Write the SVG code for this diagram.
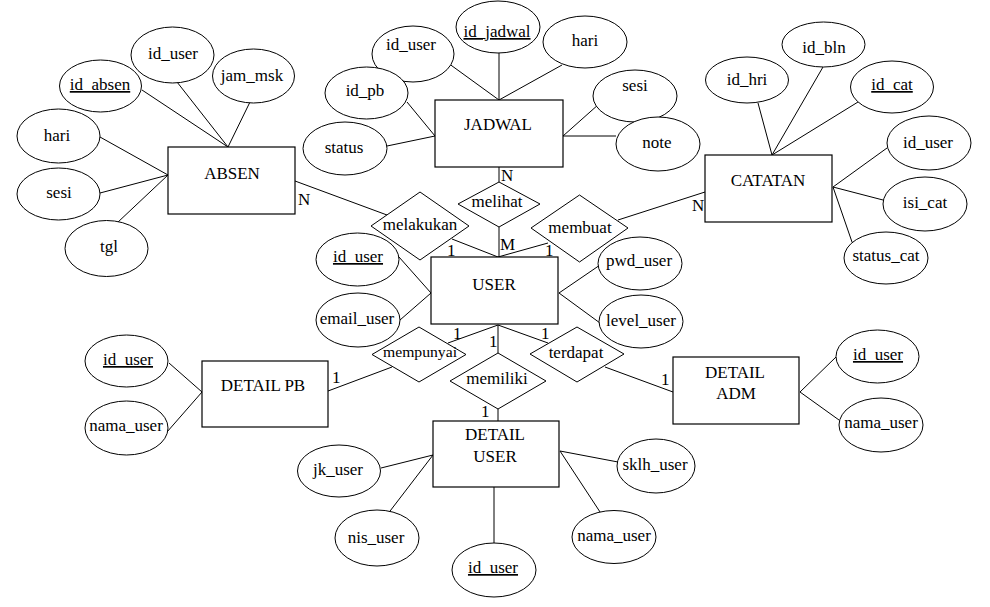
<svg xmlns="http://www.w3.org/2000/svg" width="990" height="607" viewBox="0 0 990 607">
<rect width="990" height="607" fill="#fff"/>
<g id="connectors" stroke="#000" stroke-width="1">
<line x1="142" y1="90" x2="228" y2="147"/>
<line x1="177" y1="82" x2="228" y2="147"/>
<line x1="250" y1="102" x2="228" y2="147"/>
<line x1="100" y1="137" x2="168" y2="175"/>
<line x1="100" y1="193" x2="168" y2="175"/>
<line x1="117" y1="223" x2="168" y2="175"/>
<line x1="295" y1="181" x2="387" y2="215"/>
<line x1="452" y1="239" x2="498" y2="257"/>
<line x1="448" y1="63" x2="499" y2="100"/>
<line x1="499" y1="53" x2="499" y2="100"/>
<line x1="562" y1="65" x2="499" y2="100"/>
<line x1="407" y1="102" x2="435" y2="136"/>
<line x1="387" y1="146" x2="435" y2="136"/>
<line x1="599" y1="104" x2="563" y2="136"/>
<line x1="616" y1="136" x2="563" y2="136"/>
<line x1="499" y1="167" x2="499" y2="182"/>
<line x1="499" y1="227" x2="499" y2="257"/>
<line x1="548" y1="243" x2="498" y2="257"/>
<line x1="618" y1="220" x2="705" y2="192"/>
<line x1="758" y1="103" x2="772" y2="155"/>
<line x1="823" y1="67" x2="772" y2="155"/>
<line x1="858" y1="102" x2="772" y2="155"/>
<line x1="887" y1="148" x2="833" y2="187"/>
<line x1="883" y1="200" x2="833" y2="187"/>
<line x1="852" y1="242" x2="833" y2="187"/>
<line x1="399" y1="257" x2="431" y2="293"/>
<line x1="400" y1="320" x2="431" y2="293"/>
<line x1="600" y1="265" x2="559" y2="293"/>
<line x1="600" y1="323" x2="559" y2="293"/>
<line x1="498" y1="325" x2="448" y2="343"/>
<line x1="392" y1="367" x2="328" y2="391"/>
<line x1="169" y1="363" x2="202" y2="392"/>
<line x1="167" y1="432" x2="202" y2="392"/>
<line x1="498" y1="325" x2="498" y2="353"/>
<line x1="498" y1="409" x2="498" y2="421"/>
<line x1="498" y1="325" x2="548" y2="343"/>
<line x1="605" y1="367" x2="673" y2="392"/>
<line x1="836" y1="357" x2="800" y2="392"/>
<line x1="839" y1="420" x2="800" y2="392"/>
<line x1="381" y1="468" x2="433" y2="455"/>
<line x1="387" y1="515" x2="433" y2="455"/>
<line x1="494" y1="487" x2="494" y2="544"/>
<line x1="602" y1="515" x2="560" y2="451"/>
<line x1="618" y1="462" x2="560" y2="451"/>
</g>
<g id="cardinality">
<text font-family="Liberation Serif" font-size="17" x="298" y="205">N</text>
<text font-family="Liberation Serif" font-size="17" x="447" y="256">1</text>
<text font-family="Liberation Serif" font-size="17" x="501" y="181">N</text>
<text font-family="Liberation Serif" font-size="17" x="500" y="250">M</text>
<text font-family="Liberation Serif" font-size="17" x="545" y="256">1</text>
<text font-family="Liberation Serif" font-size="17" x="692" y="211">N</text>
<text font-family="Liberation Serif" font-size="17" x="453" y="339">1</text>
<text font-family="Liberation Serif" font-size="17" x="332" y="383">1</text>
<text font-family="Liberation Serif" font-size="17" x="489" y="347">1</text>
<text font-family="Liberation Serif" font-size="17" x="481" y="417">1</text>
<text font-family="Liberation Serif" font-size="17" x="541" y="339">1</text>
<text font-family="Liberation Serif" font-size="17" x="661" y="385">1</text>
</g>
<g fill="#fff" stroke="#000" stroke-width="1">
<g id="absen"><rect stroke-width="1.2" x="168" y="147" width="127" height="67"/></g>
<g id="jadwal"><rect stroke-width="1.2" x="435" y="100" width="128" height="67"/></g>
<g id="catatan"><rect stroke-width="1.2" x="705" y="155" width="127" height="67"/></g>
<g id="user"><rect stroke-width="1.2" x="431" y="257" width="127" height="67"/></g>
<g id="detail-pb"><rect stroke-width="1.2" x="202" y="361" width="126" height="66"/></g>
<g id="detail-user"><rect stroke-width="1.2" x="433" y="421" width="126" height="66"/></g>
<g id="detail-adm"><rect stroke-width="1.2" x="673" y="357" width="126" height="67"/></g>
<g id="absen-id_user"><ellipse cx="172.5" cy="55" rx="41.5" ry="28"/></g>
<g id="absen-jam_msk"><ellipse cx="253.5" cy="76" rx="41" ry="27"/></g>
<g id="absen-id_absen"><ellipse cx="100.5" cy="86" rx="41" ry="26"/></g>
<g id="absen-hari"><ellipse cx="58.5" cy="136" rx="41.5" ry="27"/></g>
<g id="absen-sesi"><ellipse cx="58.5" cy="194" rx="41.5" ry="26"/></g>
<g id="absen-tgl"><ellipse cx="106.5" cy="248.5" rx="41.5" ry="28"/></g>
<g id="jadwal-id_user"><ellipse cx="413" cy="54" rx="41" ry="28"/></g>
<g id="jadwal-id_jadwal"><ellipse cx="498" cy="27" rx="42" ry="26"/></g>
<g id="jadwal-hari"><ellipse cx="585" cy="42" rx="42" ry="26"/></g>
<g id="jadwal-id_pb"><ellipse cx="366.5" cy="93" rx="41.5" ry="26"/></g>
<g id="jadwal-status"><ellipse cx="345" cy="148.5" rx="42" ry="26.5"/></g>
<g id="jadwal-sesi"><ellipse cx="635" cy="96" rx="42" ry="26"/></g>
<g id="jadwal-note"><ellipse cx="658" cy="144" rx="42" ry="27"/></g>
<g id="catatan-id_hri"><ellipse cx="747" cy="80" rx="41.5" ry="23"/></g>
<g id="catatan-id_bln"><ellipse cx="823.5" cy="44.5" rx="41.5" ry="22.5"/></g>
<g id="catatan-id_cat"><ellipse cx="892" cy="87" rx="41.5" ry="26"/></g>
<g id="catatan-id_user"><ellipse cx="929" cy="143" rx="42" ry="27"/></g>
<g id="catatan-isi_cat"><ellipse cx="925" cy="204" rx="42" ry="27"/></g>
<g id="catatan-status_cat"><ellipse cx="886" cy="258" rx="42" ry="26"/></g>
<g id="melakukan"><polygon points="371,226 420,192 469,226 420,260"/></g>
<g id="melihat"><polygon points="458,204 499,182 540,204 499,227"/></g>
<g id="membuat"><polygon points="531,228 579.5,195 628,228 579.5,262"/></g>
<g id="user-id_user"><ellipse cx="357.5" cy="259.5" rx="41.5" ry="26.5"/></g>
<g id="user-email_user"><ellipse cx="358" cy="320" rx="42" ry="27"/></g>
<g id="user-pwd_user"><ellipse cx="640" cy="263.5" rx="42" ry="26.5"/></g>
<g id="user-level_user"><ellipse cx="641" cy="321.5" rx="42" ry="26.5"/></g>
<g id="mempunyai"><polygon points="372,354.5 419,327 466,354.5 419,382"/></g>
<g id="memiliki"><polygon points="450,381 498,353 546,381 498,409"/></g>
<g id="terdapat"><polygon points="530,354 577,327 624,354 577,382"/></g>
<g id="pb-id_user"><ellipse cx="126.5" cy="361" rx="41.5" ry="26"/></g>
<g id="pb-nama_user"><ellipse cx="126.5" cy="428" rx="41.5" ry="27"/></g>
<g id="du-jk_user"><ellipse cx="339" cy="471" rx="41.5" ry="26"/></g>
<g id="du-nis_user"><ellipse cx="377" cy="538" rx="42" ry="28"/></g>
<g id="du-id_user"><ellipse cx="494" cy="570" rx="42" ry="27"/></g>
<g id="du-nama_user"><ellipse cx="614" cy="537" rx="42" ry="26.5"/></g>
<g id="du-sklh_user"><ellipse cx="656" cy="466" rx="39" ry="27"/></g>
<g id="adm-id_user"><ellipse cx="877.5" cy="356.5" rx="41.5" ry="26.5"/></g>
<g id="adm-nama_user"><ellipse cx="881" cy="425" rx="42" ry="27"/></g>
</g>
<g id="labels" text-anchor="middle">
<text font-family="Liberation Serif" font-size="17" x="232" y="179">ABSEN</text>
<text font-family="Liberation Serif" font-size="17" x="173" y="59">id_user</text>
<text font-family="Liberation Serif" font-size="17" x="252" y="81">jam_msk</text>
<text font-family="Liberation Serif" font-size="17" text-decoration="underline" x="100" y="90">id_absen</text>
<text font-family="Liberation Serif" font-size="17" x="57" y="141">hari</text>
<text font-family="Liberation Serif" font-size="17" x="59" y="198">sesi</text>
<text font-family="Liberation Serif" font-size="17" x="109" y="252">tgl</text>
<text font-family="Liberation Serif" font-size="17" x="498" y="130">JADWAL</text>
<text font-family="Liberation Serif" font-size="17" x="411" y="50">id_user</text>
<text font-family="Liberation Serif" font-size="17" text-decoration="underline" x="497" y="37">id_jadwal</text>
<text font-family="Liberation Serif" font-size="17" x="585" y="46">hari</text>
<text font-family="Liberation Serif" font-size="17" x="365" y="96">id_pb</text>
<text font-family="Liberation Serif" font-size="17" x="344" y="153">status</text>
<text font-family="Liberation Serif" font-size="17" x="635" y="91">sesi</text>
<text font-family="Liberation Serif" font-size="17" x="657" y="148">note</text>
<text font-family="Liberation Serif" font-size="17" x="768" y="186">CATATAN</text>
<text font-family="Liberation Serif" font-size="17" x="747" y="85">id_hri</text>
<text font-family="Liberation Serif" font-size="17" x="824" y="53">id_bln</text>
<text font-family="Liberation Serif" font-size="17" text-decoration="underline" x="892" y="90">id_cat</text>
<text font-family="Liberation Serif" font-size="17" x="928" y="148">id_user</text>
<text font-family="Liberation Serif" font-size="17" x="925" y="208">isi_cat</text>
<text font-family="Liberation Serif" font-size="17" x="886" y="261">status_cat</text>
<text font-family="Liberation Serif" font-size="17" x="420" y="230">melakukan</text>
<text font-family="Liberation Serif" font-size="17" x="497" y="207">melihat</text>
<text font-family="Liberation Serif" font-size="17" x="580" y="233">membuat</text>
<text font-family="Liberation Serif" font-size="17" x="494" y="290">USER</text>
<text font-family="Liberation Serif" font-size="17" text-decoration="underline" x="358" y="262">id_user</text>
<text font-family="Liberation Serif" font-size="17" x="357" y="324">email_user</text>
<text font-family="Liberation Serif" font-size="17" x="639" y="266">pwd_user</text>
<text font-family="Liberation Serif" font-size="17" x="641" y="326">level_user</text>
<text font-family="Liberation Serif" font-size="15" x="420" y="357" textLength="74" lengthAdjust="spacingAndGlyphs">mempunyai</text>
<text font-family="Liberation Serif" font-size="17" x="497" y="384">memiliki</text>
<text font-family="Liberation Serif" font-size="17" x="576" y="358">terdapat</text>
<text font-family="Liberation Serif" font-size="17" x="263" y="391">DETAIL PB</text>
<text font-family="Liberation Serif" font-size="17" text-decoration="underline" x="128" y="365">id_user</text>
<text font-family="Liberation Serif" font-size="17" x="126" y="431">nama_user</text>
<text font-family="Liberation Serif" font-size="17" x="495" y="440">DETAIL</text>
<text font-family="Liberation Serif" font-size="17" x="495" y="462">USER</text>
<text font-family="Liberation Serif" font-size="17" x="338" y="475">jk_user</text>
<text font-family="Liberation Serif" font-size="17" x="376" y="543">nis_user</text>
<text font-family="Liberation Serif" font-size="17" text-decoration="underline" x="493" y="573">id_user</text>
<text font-family="Liberation Serif" font-size="17" x="614" y="541">nama_user</text>
<text font-family="Liberation Serif" font-size="17" x="655" y="470">sklh_user</text>
<text font-family="Liberation Serif" font-size="17" x="735" y="378">DETAIL</text>
<text font-family="Liberation Serif" font-size="17" x="736" y="399">ADM</text>
<text font-family="Liberation Serif" font-size="17" text-decoration="underline" x="878" y="360">id_user</text>
<text font-family="Liberation Serif" font-size="17" x="881" y="428">nama_user</text>
</g>
</svg>
